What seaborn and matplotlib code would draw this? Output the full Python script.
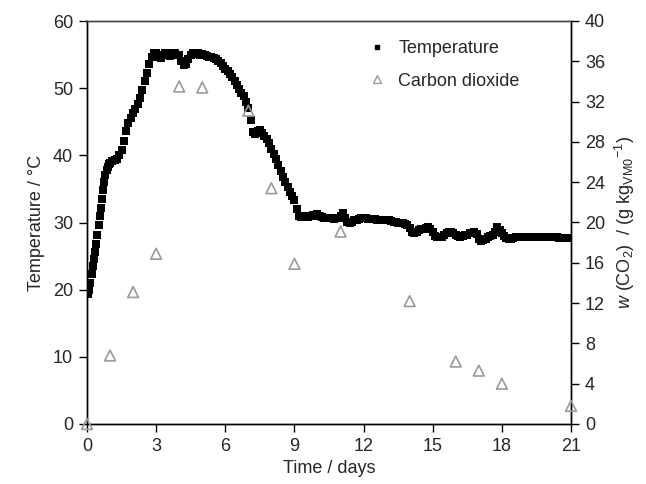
import numpy as np
import pandas as pd
import matplotlib
matplotlib.use("Agg")
import matplotlib.pyplot as plt
from matplotlib.lines import Line2D
import seaborn as sns

# ---------------- data ----------------
rise_days = [0.0, 0.05, 0.1, 0.15, 0.2, 0.25, 0.3, 0.35, 0.4, 0.45, 0.5,
             0.55, 0.6, 0.65, 0.7, 0.75, 0.8, 0.85, 0.9, 0.95]
rise_temp = [19.5, 19.3, 20.0, 21.0, 22.3, 23.5, 24.6, 25.6, 26.8, 28.2, 29.6,
             30.9, 32.2, 33.5, 34.8, 36.0, 37.0, 37.8, 38.3, 38.7]
# sampled every 0.1 day from day 1.0 to day 21.0
main_temp = [
    38.9, 39.1, 39.3, 39.4, 40.0, 40.8, 42.2, 43.6, 44.8, 45.6,   # 1.0-1.9
    46.3, 46.9, 47.6, 48.6, 49.8, 51.0, 52.3, 53.6, 54.6, 55.3,   # 2.0-2.9
    55.2, 54.6, 54.5, 55.0, 55.3, 55.2, 54.8, 55.2, 55.3, 54.9,   # 3.0-3.9
    54.9, 54.0, 53.5, 53.6, 54.3, 55.0, 55.2, 55.1, 55.2, 55.0,   # 4.0-4.9
    55.1, 54.9, 54.8, 54.7, 54.7, 54.5, 54.3, 54.0, 53.7, 53.3,   # 5.0-5.9
    52.9, 52.5, 52.1, 51.7, 51.1, 50.5, 49.9, 49.3, 48.8, 48.0,   # 6.0-6.9
    47.0, 45.3, 43.5, 43.2, 43.6, 43.8, 43.3, 42.9, 42.5, 41.8,   # 7.0-7.9
    41.0, 40.2, 39.4, 38.5, 37.6, 36.8, 36.1, 35.3, 34.6, 34.0,   # 8.0-8.9
    33.4, 32.0, 31.0, 30.8, 30.9, 31.0, 30.8, 31.0, 31.1, 31.0,   # 9.0-9.9
    31.2, 31.0, 30.8, 30.7, 30.6, 30.6, 30.6, 30.5, 30.6, 30.7,   # 10.0-10.9
    31.0, 31.4, 30.6, 30.1, 30.0, 30.1, 30.3, 30.4, 30.5, 30.6,   # 11.0-11.9
    30.6, 30.6, 30.5, 30.5, 30.5, 30.5, 30.4, 30.4, 30.4, 30.3,   # 12.0-12.9
    30.3, 30.3, 30.2, 30.1, 30.1, 30.0, 30.0, 29.9, 29.8, 29.6,   # 13.0-13.9
    29.2, 28.6, 28.5, 28.6, 28.9, 29.0, 29.1, 29.2, 29.3, 29.0,   # 14.0-14.9
    28.6, 28.0, 27.8, 27.8, 27.9, 28.2, 28.5, 28.6, 28.6, 28.4,   # 15.0-15.9
    28.2, 28.0, 27.9, 28.0, 28.1, 28.2, 28.4, 28.5, 28.6, 28.3,   # 16.0-16.9
    27.6, 27.3, 27.4, 27.6, 27.8, 28.0, 28.2, 28.6, 29.3, 28.9,   # 17.0-17.9
    28.4, 28.0, 27.7, 27.6, 27.6, 27.7, 27.8, 27.8, 27.8, 27.8,   # 18.0-18.9
    27.8, 27.8, 27.8, 27.8, 27.8, 27.8, 27.8, 27.8, 27.8, 27.8,   # 19.0-19.9
    27.8, 27.8, 27.8, 27.8, 27.8, 27.7, 27.7, 27.7, 27.7, 27.7,   # 20.0-20.9
    27.7,                                                         # 21.0
]
main_days = [round(1.0 + 0.1 * i, 1) for i in range(len(main_temp))]

temp_days = rise_days + main_days
temperature = rise_temp + main_temp

co2_days = [0, 1, 2, 3, 4, 5, 7, 8, 9, 11, 14, 16, 17, 18, 21]
co2_values = [0.0, 6.8, 13.1, 16.9, 33.5, 33.4, 31.1, 23.4, 15.9, 19.1,
              12.2, 6.2, 5.3, 4.0, 1.8]

x_ticks = [0, 3, 6, 9, 12, 15, 18, 21]
left_ticks = [0, 10, 20, 30, 40, 50, 60]
right_ticks = [0, 4, 8, 12, 16, 20, 24, 28, 32, 36, 40]

# ---------------- style ----------------
sns.set_theme(style="white")
plt.rcParams["font.family"] = ["Liberation Sans", "DejaVu Sans"]
plt.rcParams["mathtext.fontset"] = "custom"
plt.rcParams["mathtext.rm"] = "Liberation Sans"
plt.rcParams["mathtext.it"] = "Liberation Sans:italic"
plt.rcParams["font.size"] = 13

df_t = pd.DataFrame({"day": temp_days, "T": temperature})
df_c = pd.DataFrame({"day": co2_days, "co2": co2_values})

fig = plt.figure(figsize=(6.46, 4.84), dpi=100)
ax = fig.add_axes([87 / 646, 1 - 424 / 484, (571 - 87) / 646, (424 - 21) / 484])

sns.scatterplot(data=df_t, x="day", y="T", ax=ax, marker="s", s=30,
                color="black", linewidth=0, legend=False)
ax.set_xlim(0, 21)
ax.set_ylim(0, 60)
ax.set_xticks(x_ticks)
ax.set_yticks(left_ticks)
ax.set_xlabel("Time / days", fontsize=13, labelpad=4)
ax.set_ylabel("Temperature / °C", fontsize=13, labelpad=6)

ax2 = ax.twinx()
sns.scatterplot(data=df_c, x="day", y="co2", ax=ax2, marker="^", s=60,
                facecolor="none", edgecolor="#9a9a9a", linewidth=1.2,
                legend=False, clip_on=False, zorder=5)
ax2.set_ylim(0, 40)
ax2.set_yticks(right_ticks)
ax2.set_ylabel(r"$\it{w}$ (CO$_2$)  / (g kg$_{\rm VM0}$$^{-1}$)", fontsize=13,
               labelpad=6)

for a in (ax, ax2):
    a.tick_params(axis="both", direction="out", length=6, width=1,
                  color="black", labelsize=13, pad=4)
    for s in a.spines.values():
        s.set_color("black")
        s.set_linewidth(1.0)
ax.tick_params(axis="x", bottom=True, top=False)
ax.tick_params(axis="y", left=True, right=False)
ax2.tick_params(axis="y", right=True, left=False)
ax.spines["top"].set_color("#444444")
ax2.spines["top"].set_color("#444444")

handles = [
    Line2D([], [], linestyle="none", marker="s", markersize=2.8,
           color="black"),
    Line2D([], [], linestyle="none", marker="^", markersize=6,
           markerfacecolor="none", markeredgecolor="#9a9a9a",
           markeredgewidth=1.0),
]
ax2.legend(handles, ["Temperature", "Carbon dioxide"], loc="upper left",
           bbox_to_anchor=(0.565, 0.97), frameon=False, fontsize=13,
           handlelength=1.0, handletextpad=0.7, labelspacing=0.85,
           borderaxespad=0)

fig.savefig("out.png", dpi=100)
